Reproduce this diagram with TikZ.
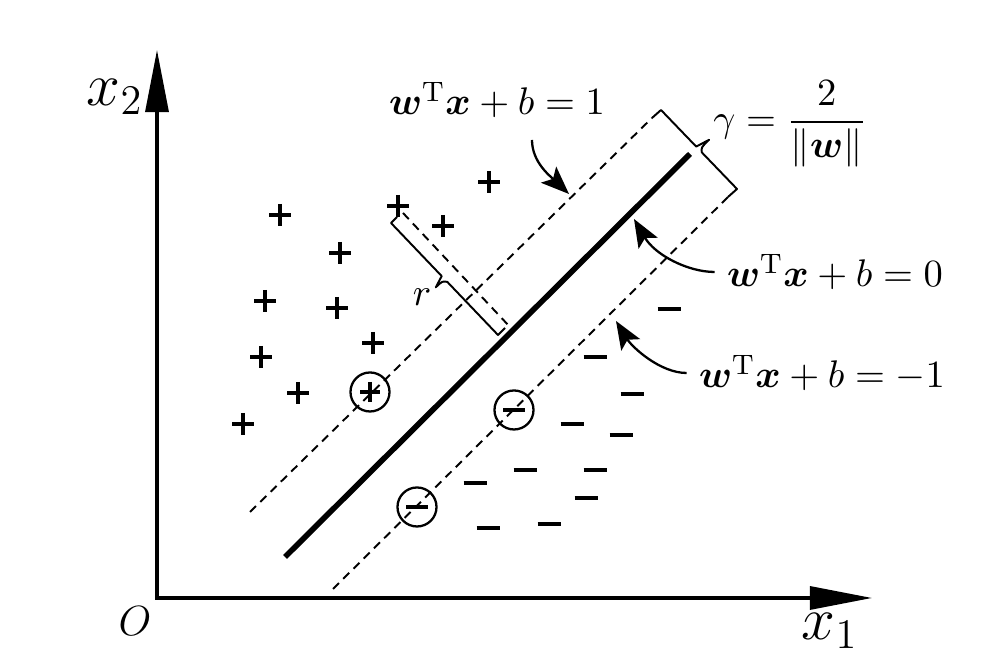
\documentclass[tikz,border=0pt]{standalone}
\usepackage{amsmath}
\usepackage{bm}
\usepackage{tikz}
\usetikzlibrary{arrows.meta}

\begin{document}
\begin{tikzpicture}[x=0.01cm, y=-0.01cm,
  axis/.style={line width=0.9pt},
  hyper/.style={line width=1.6pt, line cap=butt},
  margin/.style={line width=0.55pt, dash pattern=on 2.4pt off 1.7pt},
  bracket/.style={line width=0.55pt},
  callout/.style={line width=0.65pt, -{Stealth[length=2.8mm, width=2.2mm, inset=0.6mm]}},
  plusmark/.style={line width=1.05pt},
  minusmark/.style={line width=1.2pt},
  sv/.style={circle, draw, line width=0.65pt, minimum size=0.39cm, inner sep=0pt},
  lab/.style={font=\fontsize{10.95}{13.6}\selectfont},
  axlab/.style={font=\fontsize{17.28}{20}\selectfont}]
\useasboundingbox (0,0) rectangle (996,668);

\coordinate (o) at (157,598);
\coordinate (ytip) at (157,50);
\coordinate (xtip) at (872,598);
\draw[axis, {Triangle[length=0.62cm, width=0.23cm]}-{Triangle[length=0.62cm, width=0.23cm]}] (ytip) -- (o) -- (xtip);
\node[axlab] (x2) at (115,97) {$x_2$};
\node[axlab] (x1) at (830,631) {$x_1$};
\node[font=\fontsize{12}{14}\selectfont] (org) at (135,621) {$O$};

\coordinate (up1) at (250,512);
\coordinate (up2) at (652,118);
\coordinate (hp1) at (285,557);
\coordinate (hp2) at (690,154);
\coordinate (lo1) at (333,589);
\coordinate (lo2) at (728,197);
\draw[margin] (up1) -- (up2);
\draw[hyper] (hp1) -- (hp2);
\draw[margin] (lo1) -- (lo2);

\foreach \p in {(280,215),(340,253),(265,301),(337,308),(261,357),(373,343),(298,393),(243,424),(398,206),(443,226),(489,182)}
  \draw[plusmark] \p ++(-11,0) -- ++(22,0) \p ++(0,-11) -- ++(0,22);
\foreach \p in {(669,309),(595,357),(632,394),(572,424),(621,435),(525,470),(595,470),(475,483),(586,498),(488,528),(549,524)}
  \draw[minusmark] \p ++(-11.5,0) -- ++(23,0);

\node[sv] (sv1) at (370,392) {};
\node[sv] (sv2) at (514,410) {};
\node[sv] (sv3) at (417,507) {};
\draw[plusmark] (sv1.center) ++(-10,0) -- ++(20,0) (sv1.center) ++(0,-10) -- ++(0,20);
\draw[minusmark] (sv2.center) ++(-11,0) -- ++(22,0);
\draw[minusmark] (sv3.center) ++(-11,0) -- ++(22,0);

% margin width
\coordinate (gA) at (661,110);
\coordinate (gB) at (737,189);
\draw[bracket, line join=round] (up2) -- (gA) -- (696.2,146.6) -- (709.1,139.8)
  .. controls (701.2,147.4) .. (701.8,152.4) -- (gB) -- (lo2);
\node[lab] (gam) at (790,124) {$\gamma=\dfrac{2}{\|\bm{w}\|}$};

% distance r
\coordinate (rp) at (403,213);
\coordinate (rf) at (510,327);
\draw[margin] (rp) -- (rf);
\coordinate (rA) at (391,223);
\coordinate (rB) at (498,335);
\draw[bracket, line join=round] (397,217) -- (rA) -- (441.7,276.1) -- (435.8,287.3)
  .. controls (442.3,281.1) .. (447.3,281.9) -- (rB) -- (505,328);
\node[lab] (r) at (422,297) {$r$};

\node[lab] (lab1) at (497,100) {$\bm{w}^{\mathrm{T}}\bm{x}+b=1$};
\node[lab] (lab0) at (835,272) {$\bm{w}^{\mathrm{T}}\bm{x}+b=0$};
\node[lab] (labm) at (822,373) {$\bm{w}^{\mathrm{T}}\bm{x}+b=-1$};

\coordinate (c1s) at (532,140);
\coordinate (c1e) at (569,194);
\coordinate (c0e) at (634,219);
\coordinate (cme) at (616,321);
\draw[callout] (c1s) .. controls (532,162) and (550,176) .. (c1e);
\draw[callout] (lab0.west) .. controls (688,272) and (655,255) .. (c0e);
\draw[callout] (labm.west) .. controls (660,373) and (632,347) .. (cme);
\end{tikzpicture}
\end{document}
